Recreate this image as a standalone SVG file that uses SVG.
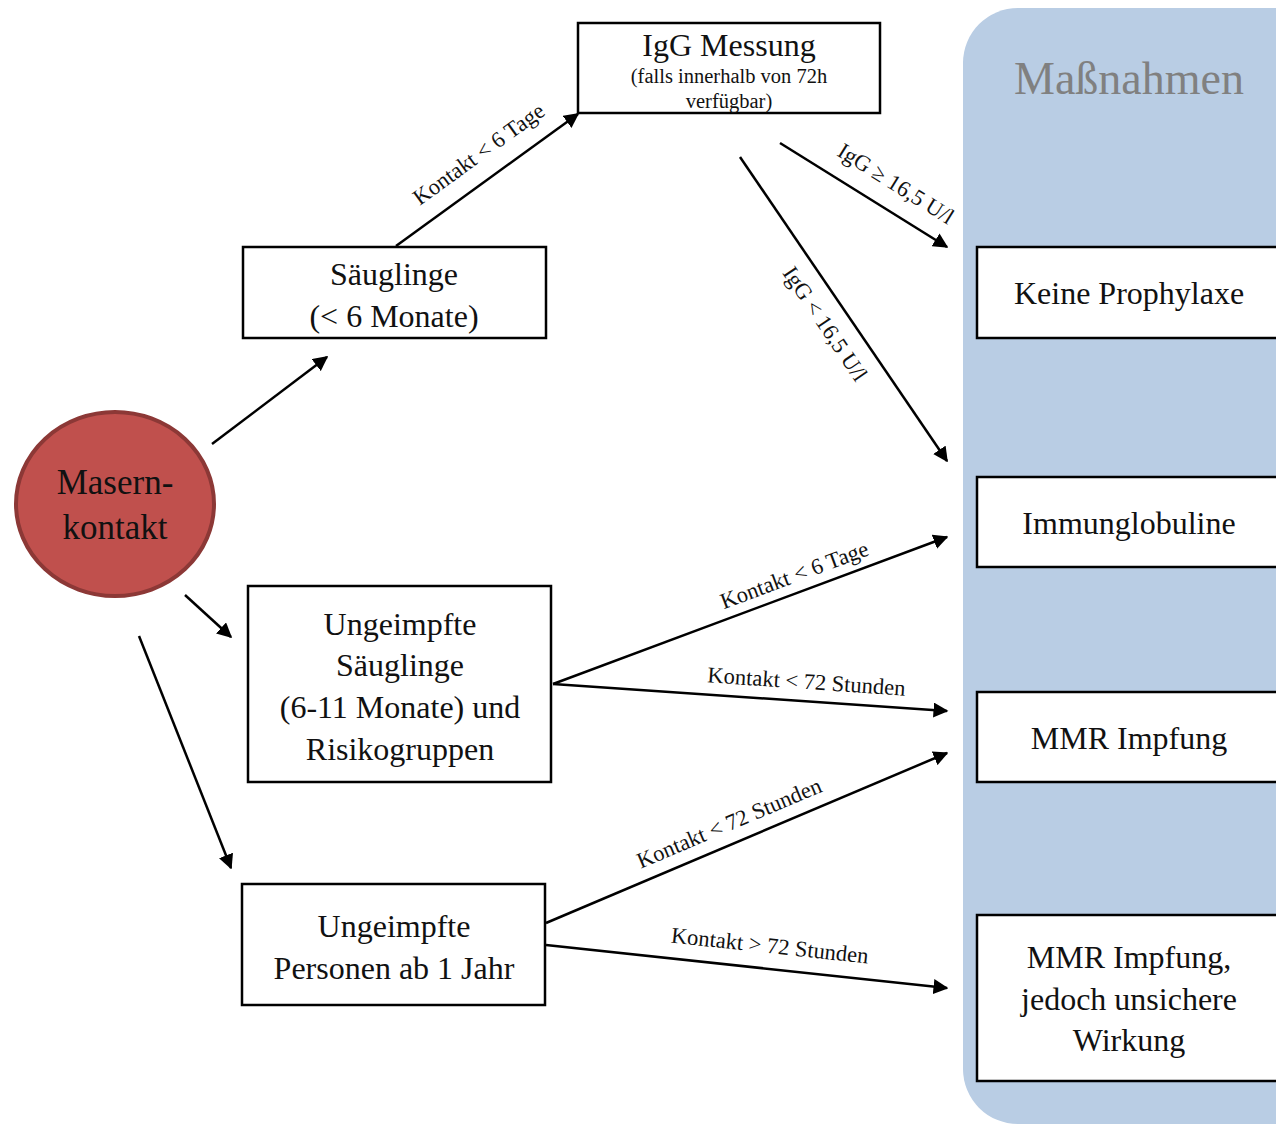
<svg xmlns="http://www.w3.org/2000/svg" width="1276" height="1124" viewBox="0 0 1276 1124">
<style>
text{font-family:"Liberation Serif","Times New Roman",serif;fill:#111;text-anchor:middle}
.box{fill:#fff;stroke:#000;stroke-width:2.5}
.t{font-size:32px}
.s{font-size:20.5px}
.l{font-size:22.5px}
.e{stroke:#000;stroke-width:2.5;fill:none;marker-end:url(#ah)}
</style>
<defs>
<marker id="ah" viewBox="0 0 10 10" refX="9" refY="5" markerWidth="6" markerHeight="6" markerUnits="strokeWidth" orient="auto"><path d="M0,0 L10,5 L0,10 z" fill="#000"/></marker>
</defs>
<rect width="1276" height="1124" fill="#fff"/>
<g id="panel">
<rect x="963" y="8" width="380" height="1116" rx="55" ry="55" fill="#b9cde4"/>
<text x="1129" y="94" style="font-size:46px;fill:#808080">Maßnahmen</text>
</g>
<g id="connectors">
<line class="e" x1="212" y1="444" x2="327" y2="357"/>
<line class="e" x1="185" y1="595" x2="231" y2="637"/>
<line class="e" x1="139" y1="636" x2="231" y2="868"/>
<line class="e" x1="396" y1="246" x2="578" y2="114"/>
<line class="e" x1="780" y1="143" x2="947" y2="247"/>
<line class="e" x1="740" y1="157" x2="947" y2="461"/>
<line class="e" x1="553" y1="684" x2="947" y2="537"/>
<line class="e" x1="553" y1="684" x2="947" y2="711"/>
<line class="e" x1="546" y1="923" x2="947" y2="753"/>
<line class="e" x1="546" y1="945" x2="947" y2="988"/>
<text class="l" transform="translate(483,160) rotate(-36)">Kontakt &lt; 6 Tage</text>
<text class="l" transform="translate(892,190) rotate(32)">IgG ≥ 16,5 U/l</text>
<text class="l" transform="translate(819,328) rotate(56)">IgG &lt; 16,5 U/l</text>
<text class="l" transform="translate(797,582) rotate(-20.5)">Kontakt &lt; 6 Tage</text>
<text class="l" transform="translate(806,689) rotate(3.9)">Kontakt &lt; 72 Stunden</text>
<text class="l" transform="translate(732,830) rotate(-23)">Kontakt &lt; 72 Stunden</text>
<text class="l" transform="translate(769,953) rotate(6.1)">Kontakt &gt; 72 Stunden</text>
</g>
<g id="masern">
<ellipse cx="115" cy="504" rx="99" ry="92" fill="#c0504d" stroke="#8c3836" stroke-width="4"/>
<text x="115" y="494" style="font-size:35px">Masern-</text>
<text x="115" y="539" style="font-size:35px">kontakt</text>
</g>
<g id="igg">
<rect class="box" x="578" y="23" width="302" height="90"/>
<text class="t" x="729" y="56">IgG Messung</text>
<text class="s" x="729" y="83">(falls innerhalb von 72h</text>
<text class="s" x="729" y="108">verfügbar)</text>
</g>
<g id="saeuglinge">
<rect class="box" x="243" y="247" width="303" height="91"/>
<text class="t" x="394" y="285">Säuglinge</text>
<text class="t" x="394" y="327">(&lt; 6 Monate)</text>
</g>
<g id="ungeimpfte-saeuglinge">
<rect class="box" x="248" y="586" width="303" height="196"/>
<text class="t" x="400" y="635">Ungeimpfte</text>
<text class="t" x="400" y="676">Säuglinge</text>
<text class="t" x="400" y="718">(6-11 Monate) und</text>
<text class="t" x="400" y="760">Risikogruppen</text>
</g>
<g id="ungeimpfte-personen">
<rect class="box" x="242" y="884" width="303" height="121"/>
<text class="t" x="394" y="937">Ungeimpfte</text>
<text class="t" x="394" y="979">Personen ab 1 Jahr</text>
</g>
<g id="keine-prophylaxe">
<rect class="box" x="977" y="247" width="320" height="91"/>
<text class="t" x="1129" y="304">Keine Prophylaxe</text>
</g>
<g id="immunglobuline">
<rect class="box" x="977" y="477" width="320" height="90"/>
<text class="t" x="1129" y="534">Immunglobuline</text>
</g>
<g id="mmr">
<rect class="box" x="977" y="692" width="320" height="90"/>
<text class="t" x="1129" y="749">MMR Impfung</text>
</g>
<g id="mmr-unsicher">
<rect class="box" x="977" y="915" width="320" height="166"/>
<text class="t" x="1129" y="968">MMR Impfung,</text>
<text class="t" x="1129" y="1010">jedoch unsichere</text>
<text class="t" x="1129" y="1051">Wirkung</text>
</g>
</svg>
